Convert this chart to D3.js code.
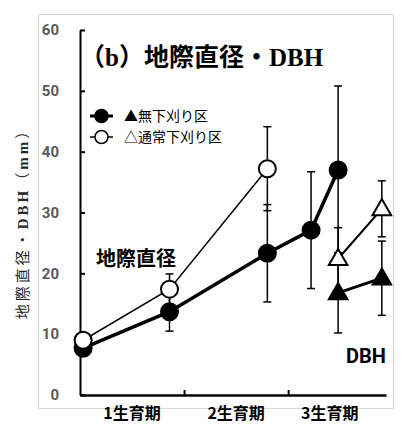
<!DOCTYPE html>
<html lang="ja">
<head>
  <meta charset="UTF-8" />
  <title>地際直径・DBH</title>
  <script src="https://cdn.jsdelivr.net/npm/d3@7"></script>
  <style>
    body, html { margin:0; padding:0; background:#fff; }
    svg { display:block; }
    .ytick text { font: bold 15px Roboto, sans-serif; fill:#595959; }
    .cat { font: bold 16px "Noto Sans CJK JP", sans-serif; text-anchor: middle; }
  </style>
</head>
<body>
  <svg id="chart" width="403" height="425"></svg>

  <script>
    // categories (growing seasons) and where their labels sit on the x scale
    const categories = ['1生育期', '2生育期', '3生育期'];
    const catPos = [0.5, 1.5, 2.4];
    const yTicks = [0, 10, 20, 30, 40, 50, 60];

    // 地際直径, 無下刈り区 (filled circles)
    const gdNoX   = [0.03, 0.86, 1.8, 2.22, 2.48];
    const gdNoVal = [7.7, 13.7, 23.3, 27.1, 37.0];
    const gdNoErr = [0.5, 3.2, 8.0, 9.6, 13.8];

    // 地際直径, 通常下刈り区 (open circles)
    const gdStX   = [0.03, 0.86, 1.8];
    const gdStVal = [9.0, 17.4, 37.2];
    const gdStErr = [0.6, 2.5, 6.9];

    // DBH, 無下刈り区 (filled triangles)
    const dbhNoX   = [2.48, 2.9];
    const dbhNoVal = [16.8, 19.2];
    const dbhNoErr = [6.6, 6.1];

    // DBH, 通常下刈り区 (open triangles)
    const dbhStX   = [2.48, 2.9];
    const dbhStVal = [22.4, 30.6];
    const dbhStErr = [5.1, 4.6];

    const svg = d3.select('#chart');

    // light plot-area frame
    svg.append('rect')
      .attr('x', 38.5).attr('y', 14.5)
      .attr('width', 355).attr('height', 394)
      .attr('fill', '#fff').attr('stroke', '#d9d9d9');

    const x = d3.scaleLinear().domain([0, 2.94]).range([80, 386]);
    const y = d3.scaleLinear().domain([0, 60]).range([395, 30]);

    // y axis, ticks point inward
    const yAxis = svg.append('g')
      .attr('class', 'ytick')
      .attr('transform', `translate(${x(0)},0)`)
      .call(d3.axisLeft(y).tickValues(yTicks).tickSizeInner(-5).tickSizeOuter(0).tickPadding(21));
    yAxis.select('.domain').attr('stroke', '#000').attr('stroke-width', 2);
    yAxis.selectAll('.tick line').attr('stroke', '#000').attr('stroke-width', 2);

    // x axis
    const xAxis = svg.append('g')
      .attr('transform', `translate(0,${y(0)})`)
      .call(d3.axisBottom(x).tickValues([1, 2]).tickSizeInner(-5).tickSizeOuter(0).tickFormat(''));
    xAxis.select('.domain').attr('stroke', '#000').attr('stroke-width', 2.5);
    xAxis.selectAll('.tick line').attr('stroke', '#000').attr('stroke-width', 2);

    svg.selectAll('.cat')
      .data(categories)
      .join('text')
        .attr('class', 'cat')
        .attr('x', (d, i) => x(catPos[i]))
        .attr('y', 419)
        .text(d => d);

    // y axis title (CJK sans, latin part in bold serif)
    const yTitle = svg.append('text')
      .attr('transform', `translate(28,220) rotate(-90)`)
      .attr('text-anchor', 'middle')
      .attr('fill', '#262626')
      .style('font', '15px "Noto Sans CJK JP", sans-serif')
      .style('letter-spacing', '3px');
    yTitle.append('tspan').text('地際直径・');
    yTitle.append('tspan').style('font', 'bold 15px "Liberation Serif", serif').text('DBH');
    yTitle.append('tspan').text('（');
    yTitle.append('tspan').style('font', 'bold 15px "Liberation Serif", serif').text('mm');
    yTitle.append('tspan').text('）');

    // chart title
    svg.append('text')
      .attr('x', 80).attr('y', 66)
      .style('font', 'bold 25px "Liberation Serif", "Noto Sans CJK JP", serif')
      .text('（b）地際直径・DBH');

    const triangle = d3.symbol().type(d3.symbolTriangle).size(150);
    const circleR = 8.5;

    function drawSeries(xs, vals, errs, opt) {
      const pts = xs.map((t, i) => ({ t, v: vals[i], e: errs[i] }));
      const g = svg.append('g');

      // error bars
      pts.forEach(p => {
        g.append('line')
          .attr('x1', x(p.t)).attr('x2', x(p.t))
          .attr('y1', y(p.v - p.e)).attr('y2', y(p.v + p.e))
          .attr('stroke', '#000').attr('stroke-width', 1.5);
        [p.v - p.e, p.v + p.e].forEach(v => {
          g.append('line')
            .attr('x1', x(p.t) - 4).attr('x2', x(p.t) + 4)
            .attr('y1', y(v)).attr('y2', y(v))
            .attr('stroke', '#000').attr('stroke-width', 1.5);
        });
      });

      g.append('path')
        .datum(pts)
        .attr('fill', 'none')
        .attr('stroke', '#000')
        .attr('stroke-width', opt.lw)
        .attr('d', d3.line().x(d => x(d.t)).y(d => y(d.v)));

      if (opt.shape === 'circle') {
        g.selectAll('circle').data(pts).join('circle')
          .attr('cx', d => x(d.t)).attr('cy', d => y(d.v))
          .attr('r', circleR)
          .attr('fill', opt.fill)
          .attr('stroke', '#000').attr('stroke-width', 2);
      } else {
        g.selectAll('.tri').data(pts).join('path')
          .attr('class', 'tri')
          .attr('transform', d => `translate(${x(d.t)},${y(d.v) + 1})`)
          .attr('d', triangle)
          .attr('fill', opt.fill)
          .attr('stroke', '#000').attr('stroke-width', 2);
      }
    }

    drawSeries(gdNoX, gdNoVal, gdNoErr, { shape: 'circle', fill: '#000', lw: 3.5 });
    drawSeries(gdStX, gdStVal, gdStErr, { shape: 'circle', fill: '#fff', lw: 1.5 });
    drawSeries(dbhNoX, dbhNoVal, dbhNoErr, { shape: 'tri', fill: '#000', lw: 3 });
    drawSeries(dbhStX, dbhStVal, dbhStErr, { shape: 'tri', fill: '#fff', lw: 2 });

    // legend
    const legend = [
      { label: '▲無下刈り区', fill: '#000', lw: 3 },
      { label: '△通常下刈り区', fill: '#fff', lw: 1.5 }
    ];
    legend.forEach((d, i) => {
      const ly = 116 + i * 21;
      svg.append('line')
        .attr('x1', 90).attr('x2', 113).attr('y1', ly).attr('y2', ly)
        .attr('stroke', '#000').attr('stroke-width', d.lw);
      svg.append('circle')
        .attr('cx', 101.5).attr('cy', ly).attr('r', 6.5)
        .attr('fill', d.fill).attr('stroke', '#000').attr('stroke-width', 1.5);
      svg.append('text')
        .attr('x', 124).attr('y', ly + 5)
        .style('font', '14px "Noto Sans CJK JP", sans-serif')
        .text(d.label);
    });

    // in-plot annotations
    svg.append('text')
      .attr('x', 96).attr('y', 266)
      .style('font', 'bold 20px "Noto Sans CJK JP", sans-serif')
      .text('地際直径');
    svg.append('text')
      .attr('x', 386).attr('y', 363)
      .attr('text-anchor', 'end')
      .style('font', 'bold 20px Roboto, sans-serif')
      .text('DBH');
  </script>
</body>
</html>
